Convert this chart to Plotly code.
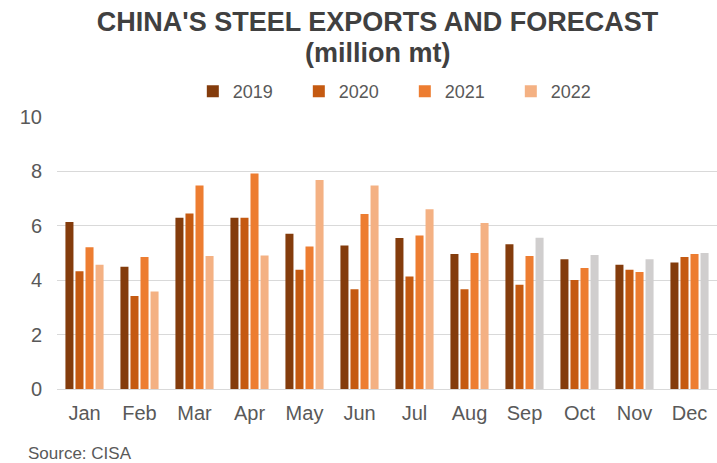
import plotly.graph_objects as go

# Monthly steel exports, million metric tonnes
months = ["Jan", "Feb", "Mar", "Apr", "May", "Jun",
          "Jul", "Aug", "Sep", "Oct", "Nov", "Dec"]
exports_2019 = [6.14, 4.49, 6.30, 6.30, 5.71, 5.28, 5.55, 4.96, 5.32, 4.77, 4.57, 4.65]
exports_2020 = [4.33, 3.42, 6.45, 6.30, 4.38, 3.67, 4.14, 3.67, 3.83, 4.01, 4.38, 4.85]
exports_2021 = [5.21, 4.85, 7.48, 7.92, 5.24, 6.43, 5.64, 5.00, 4.89, 4.45, 4.30, 4.96]
exports_2022 = [4.57, 3.58, 4.89, 4.91, 7.68, 7.48, 6.61, 6.10, 5.56, 4.93, 4.77, 5.00]
# 2022 months that are forecasts rather than reported figures
forecast_2022 = [False] * 8 + [True] * 4

series = [
    ("2019", exports_2019, "#843C0C"),
    ("2020", exports_2020, "#C55A11"),
    ("2021", exports_2021, "#ED7D31"),
    ("2022", exports_2022, "#F4B183"),
]
FORECAST_COLOR = "#D0CECE"
FONT = "Arial, Liberation Sans, sans-serif"
TEXT_GREY = "#595959"
TITLE_GREY = "#404040"

fig = go.Figure()
for name, values, color in series:
    if name == "2022":
        colors = [FORECAST_COLOR if f else color for f in forecast_2022]
    else:
        colors = color
    fig.add_trace(go.Bar(
        x=months, y=values, name=name,
        marker=dict(color=colors, line=dict(width=0)),
        hovertemplate="%{x} " + name + ": %{y:.2f}<extra></extra>",
    ))

fig.update_layout(
    width=717, height=463, autosize=False,
    margin=dict(l=57, r=0, t=117, b=74),
    paper_bgcolor="white", plot_bgcolor="white",
    barmode="group", bargap=0.27, bargroupgap=0.2,
    font=dict(family=FONT, color=TEXT_GREY),
    title=dict(
        text="<b>CHINA'S STEEL EXPORTS AND FORECAST</b>",
        font=dict(family=FONT, size=27, color=TITLE_GREY),
        xref="container", x=0.5265, xanchor="center",
        yref="container", y=1 - 22 / 463, yanchor="middle",
    ),
    legend=dict(
        orientation="h", xref="paper", x=0.527, xanchor="center",
        yref="paper", y=1.094, yanchor="middle",
        font=dict(size=18, color=TEXT_GREY),
        traceorder="normal", entrywidth=61, entrywidthmode="pixels",
        bgcolor="rgba(0,0,0,0)",
    ),
    annotations=[
        dict(
            text="<b>(million mt)</b>", showarrow=False,
            xref="paper", x=0.4856, xanchor="center",
            yref="paper", y=1.236, yanchor="middle",
            font=dict(family=FONT, size=27, color=TITLE_GREY),
        ),
        dict(
            text="Source: CISA", showarrow=False,
            xref="paper", x=-0.047, xanchor="left",
            yref="paper", y=-0.237, yanchor="middle",
            font=dict(size=17, color=TEXT_GREY),
        ),
    ],
)

fig.update_xaxes(
    showgrid=False, showline=True, linecolor="#D9D9D9", linewidth=1,
    ticks="", tickfont=dict(size=20, color=TEXT_GREY),
    ticklabelstandoff=6,
)
fig.update_yaxes(
    range=[0, 10], dtick=2, showgrid=True, gridcolor="#D9D9D9", gridwidth=1,
    zeroline=True, zerolinecolor="#D9D9D9", zerolinewidth=1,
    ticks="", tickfont=dict(size=20, color=TEXT_GREY),
    ticklabelstandoff=14,
)

fig.write_html("out.html")
